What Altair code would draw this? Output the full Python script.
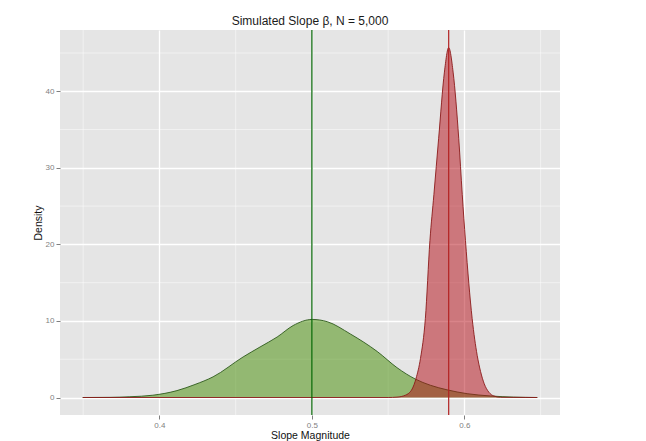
import altair as alt
import pandas as pd

# Density curve: slope estimates (green) and biased estimates (red)
green_x = [0.3497, 0.3675, 0.3806, 0.3957, 0.4115, 0.4233, 0.4352, 0.4549, 0.4660, 0.4772,
           0.4877, 0.5002, 0.5101, 0.5252, 0.5429, 0.5558, 0.5679, 0.5777, 0.5887, 0.6018,
           0.6172, 0.6323, 0.6478]
green_y = [0.0, 0.02, 0.1, 0.3, 0.9, 1.7, 2.7, 5.3, 6.6, 7.9,
           9.4, 10.2, 9.9, 8.3, 6.0, 3.9, 2.4, 1.6, 1.0, 0.5,
           0.2, 0.05, 0.0]

red_x = [0.3497, 0.5500, 0.5558, 0.5613, 0.5657, 0.5683, 0.5712, 0.5744, 0.5774, 0.5800,
         0.5831, 0.5869, 0.5897, 0.5926, 0.5963, 0.5986, 0.6007, 0.6051, 0.6084, 0.6106,
         0.6130, 0.6160, 0.6193, 0.6237, 0.6478]
red_y = [0.0, 0.0, 0.05, 0.3, 1.1, 2.5, 5.1, 10.3, 20.5, 26.5,
         33.8, 42.5, 45.7, 42.5, 33.8, 26.5, 20.5, 10.3, 5.5, 3.4,
         1.8, 0.7, 0.2, 0.03, 0.0]

green_mean = [0.5]
red_mean = [0.5897]

x_major = [0.4, 0.5, 0.6]
x_minor = [0.35, 0.45, 0.55, 0.65]
y_major = [0, 10, 20, 30, 40]
y_minor = [5, 15, 25, 35, 45]

x_domain = [0.3348, 0.6627]
y_domain = [-2.285, 48.0]

green_df = pd.DataFrame({"x": green_x, "y": green_y})
red_df = pd.DataFrame({"x": red_x, "y": red_y})

FONT = "Liberation Sans"

xs = alt.Scale(domain=x_domain, nice=False, zero=False)
ys = alt.Scale(domain=y_domain, nice=False, zero=False)

x_axis = alt.Axis(values=x_major, format=".1f", title="Slope Magnitude", grid=True,
                  gridColor="white", gridWidth=1.3, domain=False, tickSize=4,
                  tickColor="#7f7f7f", labelColor="#7f7f7f", labelFontSize=8,
                  labelPadding=2, titleFontSize=10.5, titleColor="#111111",
                  titleFontWeight="normal", titlePadding=1, labelFont=FONT, titleFont=FONT)
y_axis = alt.Axis(values=y_major, format="d", title="Density", grid=True,
                  gridColor="white", gridWidth=1.3, domain=False, tickSize=4,
                  tickColor="#7f7f7f", labelColor="#7f7f7f", labelFontSize=8,
                  labelPadding=2, titleFontSize=10.5, titleColor="#111111",
                  titleFontWeight="normal", titlePadding=2, labelFont=FONT, titleFont=FONT)

base_x = alt.X("x:Q", scale=xs, axis=x_axis)
base_y = alt.Y("y:Q", scale=ys, axis=y_axis)

minor_v = alt.Chart(pd.DataFrame({"x": x_minor})).mark_rule(
    color="white", strokeWidth=0.6, opacity=0.8
).encode(x=alt.X("x:Q", scale=xs, axis=x_axis))

minor_h = alt.Chart(pd.DataFrame({"y": y_minor})).mark_rule(
    color="white", strokeWidth=0.6, opacity=0.8
).encode(y=alt.Y("y:Q", scale=ys, axis=y_axis))

green_area = alt.Chart(green_df).mark_area(
    color="#418b00", opacity=0.5, interpolate="monotone"
).encode(x=base_x, y=base_y, y2=alt.datum(0))
green_line = alt.Chart(green_df).mark_line(
    color="#2e5a1c", strokeWidth=0.9, interpolate="monotone"
).encode(x=base_x, y=base_y)

red_area = alt.Chart(red_df).mark_area(
    color="#b40a14", opacity=0.5, interpolate="monotone"
).encode(x=base_x, y=base_y, y2=alt.datum(0))
red_line = alt.Chart(red_df).mark_line(
    color="#8b1a1a", strokeWidth=0.9, interpolate="monotone"
).encode(x=base_x, y=base_y)

green_vline = alt.Chart(pd.DataFrame({"x": green_mean})).mark_rule(
    color="#006400", strokeWidth=1.2
).encode(x=alt.X("x:Q", scale=xs, axis=x_axis))
red_vline = alt.Chart(pd.DataFrame({"x": red_mean})).mark_rule(
    color="#b22222", strokeWidth=1.2
).encode(x=alt.X("x:Q", scale=xs, axis=x_axis))

chart = alt.layer(
    minor_v, minor_h, green_area, green_line, red_area, red_line, green_vline, red_vline
).properties(
    width=500,
    height=385,
    autosize=alt.AutoSizeParams(type="none"),
    padding={"left": 52, "top": 22, "right": 70, "bottom": 26},
    background="white",
    title=alt.TitleParams(
        text="Simulated Slope β, N = 5,000", fontSize=12, font=FONT,
        fontWeight="normal", color="#1a1a1a", anchor="middle",
        baseline="bottom", offset=4, dy=15
    ),
).configure_view(
    fill="#E5E5E5", stroke=None
)

chart.save("out.html", embed_options={"renderer": "svg", "actions": False})
